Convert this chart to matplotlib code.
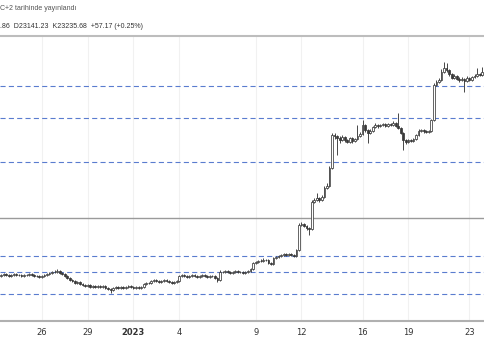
import matplotlib
matplotlib.use("Agg")
import matplotlib.pyplot as plt
import numpy as np

# ---- data (4h candles, price units) ----
first_open = 17000
close = [
    17030, 17060, 17030, 17000, 17030, 17060, 17030, 17030, 17000, 17030,
    17030, 17060, 17030, 17000, 17000, 16970, 17000, 17030, 17060, 17090,
    17120, 17120, 17150, 17090, 17060, 17000, 16940, 16880, 16850, 16790,
    16820, 16760, 16730, 16700, 16730, 16670, 16700, 16670, 16700, 16670,
    16700, 16640, 16610, 16580, 16640, 16670, 16640, 16670, 16640, 16670,
    16700, 16670, 16640, 16670, 16640, 16670, 16760, 16790, 16790, 16850,
    16880, 16850, 16820, 16850, 16880, 16850, 16820, 16790, 16820, 16850,
    17000, 17030, 17000, 16970, 17000, 17030, 17000, 16970, 17000, 17030,
    17000, 16970, 17000, 17000, 16940, 16880, 17120, 17120, 17150, 17120,
    17090, 17120, 17150, 17120, 17120, 17090, 17120, 17150, 17210, 17390,
    17420, 17450, 17450, 17480, 17480, 17390, 17360, 17540, 17570, 17600,
    17630, 17660, 17630, 17660, 17630, 17600, 17780, 18530, 18560, 18500,
    18440, 18410, 19220, 19280, 19340, 19280, 19370, 19640, 19700, 20240,
    21230, 21200, 21140, 21080, 21170, 21080, 21020, 21140, 21050, 21110,
    21200, 21260, 21530, 21380, 21290, 21350, 21470, 21530, 21500, 21530,
    21560, 21500, 21560, 21530, 21590, 21500, 21440, 21290, 21080, 21020,
    21080, 21050, 21110, 21230, 21350, 21380, 21350, 21320, 21350, 21680,
    22730, 22820, 22880, 23120, 23240, 23180, 23060, 22940, 23000, 22910,
    22880, 22910, 22850, 22940, 22880, 22970, 23000, 23060, 23030, 23120,
    23030,
]
high = [
    17070, 17090, 17080, 17050, 17060, 17100, 17080, 17060, 17050, 17060,
    17070, 17090, 17080, 17050, 17040, 17030, 17030, 17060, 17090, 17130,
    17160, 17180, 17200, 17170, 17110, 17080, 17020, 16960, 16910, 16880,
    16850, 16840, 16790, 16760, 16760, 16750, 16740, 16720, 16730, 16720,
    16740, 16720, 16670, 16640, 16670, 16700, 16690, 16700, 16690, 16700,
    16740, 16720, 16700, 16690, 16700, 16710, 16790, 16830, 16820, 16880,
    16910, 16900, 16870, 16880, 16920, 16900, 16870, 16840, 16850, 16880,
    17040, 17070, 17050, 17020, 17030, 17070, 17050, 17020, 17030, 17060,
    17050, 17020, 17030, 17040, 17020, 16960, 17180, 17160, 17190, 17170,
    17140, 17150, 17190, 17170, 17150, 17140, 17150, 17190, 17250, 17430,
    17460, 17490, 17510, 17540, 17520, 17500, 17410, 17580, 17610, 17640,
    17670, 17700, 17680, 17690, 17680, 17650, 17820, 18590, 18620, 18600,
    18530, 18470, 19290, 19350, 19490, 19380, 19420, 19700, 19780, 20300,
    21300, 21280, 21220, 21190, 21220, 21200, 21120, 21180, 21170, 21150,
    21530, 21320, 21680, 21560, 21410, 21400, 21510, 21580, 21560, 21570,
    21600, 21580, 21600, 21590, 21640, 21610, 21890, 21470, 21310, 21110,
    21120, 21100, 21150, 21270, 21400, 21420, 21400, 21380, 21390, 21720,
    22800, 22880, 22950, 23200, 23420, 23380, 23220, 23100, 23050, 23040,
    22960, 22960, 22940, 22990, 22980, 23010, 23050, 23240, 23100, 23280,
    23150,
]
low = [
    16980, 17010, 17000, 16970, 16980, 17010, 17000, 17000, 16960, 16980,
    17000, 17010, 17000, 16970, 16960, 16940, 16950, 16980, 17010, 17040,
    17060, 17080, 17090, 17060, 17030, 16960, 16900, 16840, 16810, 16750,
    16760, 16720, 16690, 16660, 16670, 16630, 16640, 16630, 16650, 16640,
    16650, 16600, 16570, 16490, 16550, 16610, 16610, 16620, 16600, 16620,
    16640, 16640, 16610, 16620, 16610, 16620, 16650, 16740, 16760, 16770,
    16830, 16820, 16790, 16800, 16830, 16820, 16790, 16760, 16770, 16800,
    16830, 16980, 16970, 16940, 16950, 16980, 16970, 16940, 16950, 16980,
    16970, 16940, 16950, 16960, 16900, 16830, 16860, 17090, 17100, 17090,
    17060, 17070, 17100, 17090, 17090, 17060, 17070, 17100, 17130, 17190,
    17370, 17400, 17410, 17430, 17440, 17350, 17320, 17340, 17520, 17550,
    17580, 17610, 17600, 17610, 17590, 17560, 17580, 17760, 18490, 18460,
    18390, 18230, 18380, 19180, 19250, 19230, 19250, 19340, 19600, 19680,
    20200, 21100, 20630, 21000, 21050, 21030, 20980, 20990, 21000, 21010,
    21080, 21170, 21230, 21330, 21000, 21250, 21320, 21440, 21450, 21470,
    21500, 21460, 21470, 21490, 21500, 21460, 21400, 21250, 20780, 20960,
    20990, 21010, 21020, 21090, 21200, 21320, 21300, 21280, 21290, 21320,
    21650, 22690, 22780, 22850, 23080, 23120, 23000, 22900, 22900, 22870,
    22830, 22850, 22520, 22820, 22840, 22850, 22940, 22970, 22990, 23000,
    23000,
]
dashed_levels = [22700, 21740, 20420, 17600, 17120, 16460]
solid_level = 18740
tick_pos = [16, 34, 52, 70, 100, 118, 142, 160, 184]
tick_labels = ["26", "29", "2023", "4", "9", "12", "16", "19", "23"]
header1 = "C+2 tarihinde yayınlandı"
header2 = ".86  D23141.23  K23235.68  +57.17 (+0.25%)"

# ---- figure ----
W, H = 485, 360
fig = plt.figure(figsize=(W / 100, H / 100), dpi=100)
ax = fig.add_axes([0, (H - 321) / H, 1, (321 - 36) / H])

n = len(close)
x = np.arange(n)
opens = np.array([first_open] + close[:-1])
cl = np.array(close)

ax.set_xlim(-0.43, 190.1)
ax.set_ylim(15650, 24200)

# grid
for t in tick_pos:
    ax.axvline(t, color="#f1f1f1", lw=0.8, zorder=0)

for lv in dashed_levels:
    ax.axhline(lv, color="#5a7ccf", lw=0.8, ls=(0, (4.6, 2.9)), zorder=1)
ax.axhline(solid_level, color="#9a9a9a", lw=1.0, zorder=1)

# candles
ink = "#3a3a3a"
ax.vlines(x, low, high, color=ink, lw=0.65, zorder=2)
up = cl >= opens
bot = np.minimum(opens, cl)
hgt = np.abs(cl - opens)
ax.bar(x[up], hgt[up], bottom=bot[up], width=0.68, facecolor="white",
       edgecolor=ink, linewidth=0.55, zorder=3)
ax.bar(x[~up], hgt[~up], bottom=bot[~up], width=0.68, facecolor=ink,
       edgecolor=ink, linewidth=0.55, zorder=3)

# axes styling
for s in ["left", "right"]:
    ax.spines[s].set_visible(False)
ax.spines["top"].set_color("#bdbdbd")
ax.spines["top"].set_linewidth(1.5)
ax.spines["bottom"].set_color("#b0b0b0")
ax.spines["bottom"].set_linewidth(1.5)
ax.set_yticks([])
ax.set_xticks(tick_pos)
ax.set_xticklabels(tick_labels, fontsize=6.0, color="#333333")
ax.tick_params(axis="x", length=0, pad=5)
for lab in ax.get_xticklabels():
    if lab.get_text() == "2023":
        lab.set_fontweight("bold")

fig.text(0 / W, 1 - 8 / H, header1, fontsize=5.0, color="#555555",
         va="center", ha="left", family=["Liberation Sans", "DejaVu Sans"])
fig.text(0 / W, 1 - 27 / H, header2, fontsize=5.0, color="#333333",
         va="center", ha="left", family=["Liberation Sans", "DejaVu Sans"])

fig.savefig("out.png", dpi=100)
